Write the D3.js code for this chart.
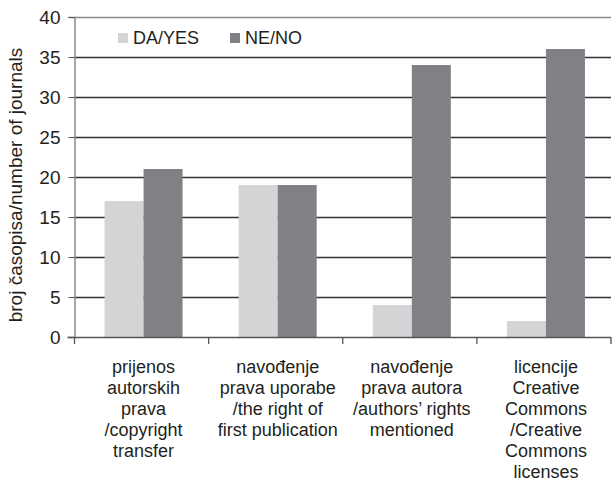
<!DOCTYPE html>
<html><head><meta charset="utf-8">
<script src="https://cdn.jsdelivr.net/npm/d3@7"></script>
<style>body{margin:0;background:#fff}svg{display:block;font-family:"Liberation Sans",Arial,sans-serif}</style>
</head><body><svg id="c" width="612" height="481"></svg>
<script>
const categories = [
  ["prijenos","autorskih","prava","/copyright","transfer"],
  ["navođenje","prava uporabe","/the right of","first publication"],
  ["navođenje","prava autora","/authors’ rights","mentioned"],
  ["licencije","Creative","Commons","/Creative","Commons","licenses"]
];
const series = ["DA/YES","NE/NO"];
const daValues = [17, 19, 4, 2];
const neValues = [21, 19, 34, 36];
const yTicks = [0,5,10,15,20,25,30,35,40];
const colors = ["#d3d4d6","#808184"];

const svg = d3.select("#c");
const L = 74.5, R = 611, T = 17, B = 337;
const y = d3.scaleLinear().domain([0,40]).range([B,T]);
const x0 = d3.scaleBand().domain(d3.range(categories.length)).range([L,R]).padding(0);
const bw = x0.bandwidth();
const gap = (bw - 78)/2;
const x1 = d3.scaleBand().domain(series).range([gap+2, bw-gap+2]).padding(0);

// gridlines
svg.append("g").selectAll("line").data(yTicks.filter(d=>d>0)).join("line")
  .attr("x1",L).attr("x2",R).attr("y1",d=>Math.round(y(d))+0.5).attr("y2",d=>Math.round(y(d))+0.5)
  .attr("stroke",d=>d===40?"#8a8a8a":"#333").attr("stroke-width",d=>d===40?1.5:1.3);

// bars
const data = categories.map((c,i)=>[daValues[i],neValues[i]]);
const g = svg.append("g");
data.forEach((vals,i)=>{
  g.selectAll(null).data(vals).join("rect")
    .attr("x",(d,j)=>x0(i)+x1(series[j]))
    .attr("width",x1.bandwidth())
    .attr("y",d=>y(d)).attr("height",d=>B-y(d))
    .attr("fill",(d,j)=>colors[j]);
});

// y axis
const ya = svg.append("g").attr("transform",`translate(${L},0)`)
  .call(d3.axisLeft(y).tickValues(yTicks).tickSize(6).tickPadding(8));
ya.select(".domain").attr("stroke","#8a8a8a").attr("stroke-width",1.5);
ya.selectAll(".tick line").attr("stroke","#555");
ya.selectAll("text").attr("font-size",19).attr("fill","#231f20").attr("font-family","Liberation Sans, Arial, sans-serif");

// x axis baseline and ticks
svg.append("line").attr("x1",L-7).attr("x2",R).attr("y1",B+0.5).attr("y2",B+0.5).attr("stroke","#555").attr("stroke-width",1.3);
const bounds = d3.range(categories.length+1).map(i=> i<categories.length ? x0(i) : R);
svg.append("g").selectAll("line").data(bounds).join("line")
  .attr("x1",d=>d).attr("x2",d=>d).attr("y1",B).attr("y2",B+7).attr("stroke","#555").attr("stroke-width",1.3);

// x labels
categories.forEach((lines,i)=>{
  const t = svg.append("text").attr("text-anchor","middle").attr("font-size",18).attr("fill","#231f20")
    .attr("x", x0(i)+bw/2 + 2).attr("y",373);
  lines.forEach((ln,k)=>t.append("tspan").attr("x",x0(i)+bw/2+2).attr("dy",k===0?0:21).text(ln));
});

// y title
svg.append("text").attr("transform","translate(22,185) rotate(-90)").attr("text-anchor","middle")
  .attr("font-size",19).attr("fill","#231f20").text("broj časopisa/number of journals");

// legend
const leg = [{x:118},{x:230}];
series.forEach((s,j)=>{
  svg.append("rect").attr("x",leg[j].x).attr("y",33).attr("width",10).attr("height",10).attr("fill",colors[j]);
  svg.append("text").attr("x",leg[j].x+15).attr("y",44).attr("font-size",18).attr("fill","#231f20").text(s);
});
</script></body></html>
